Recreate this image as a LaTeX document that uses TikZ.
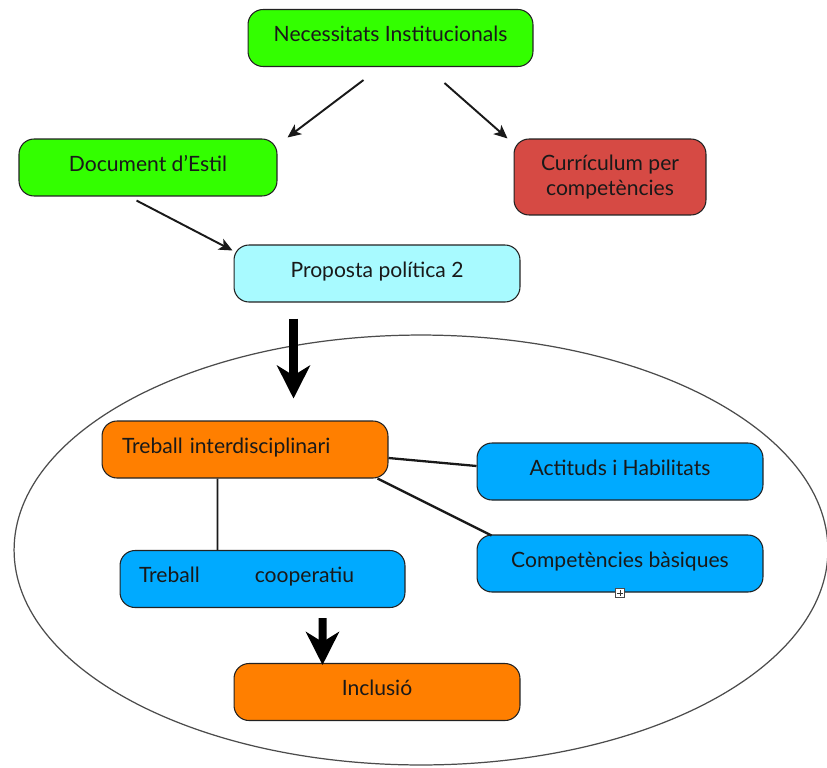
\documentclass[tikz,border=0pt]{standalone}
\usepackage{fontspec}
\setmainfont{Lato}
\usetikzlibrary{arrows.meta,calc}
\definecolor{cgreen}{HTML}{33FF00}
\definecolor{cred}{HTML}{D64A44}
\definecolor{ccyan}{HTML}{A8FAFF}
\definecolor{cblue}{HTML}{00AAFF}
\definecolor{corange}{HTML}{FF7F00}
\definecolor{cline}{HTML}{222222}
\tikzset{
  box/.style={draw=cline, line width=0.6pt, rounded corners=0.3cm,
    minimum height=1.14cm, minimum width=5.72cm, inner sep=0pt,
    font=\fontsize{12}{14.5}\selectfont, text=black!90, align=center},
  lift/.style={text height=0.3cm, text depth=0.15cm},
  thinarrow/.style={line width=1.1pt, draw=black!90,
    -{Stealth[length=0.27cm, width=0.24cm, inset=0.07cm]}},
  bigarrow/.style={line width=0.18cm, draw=black,
    -{Stealth[length=0.66cm, width=0.66cm, inset=0.2cm]}},
  link/.style={line width=1.3pt, draw=black!90},
}
\begin{document}
\begin{tikzpicture}[x=0.02cm, y=-0.02cm]
\useasboundingbox (0,0) rectangle (827,767);
\fill[white] (0,0) rectangle (827,767);
% ellipse
\draw[black!70, line width=0.7pt] (421,550) ellipse [x radius=8.14cm, y radius=4.3cm];
% nodes
\node[box, lift, fill=cgreen, minimum width=5.7cm] (nec) at (390.5,38) {Necessitats Institucionals};
\node[box, lift, fill=cgreen, minimum width=5.16cm] (doc) at (148,167.5) {Document d’Estil};
\node[box, fill=cred, minimum width=3.84cm, minimum height=1.52cm] (cur) at (610,177) {Currículum per\\competències};
\node[box, lift, fill=ccyan] (prop) at (377,273.5) {Proposta política 2};
\node[box, lift, fill=corange, text width=4.92cm, inner xsep=0.4cm, align=left] (inter) at (245,449.5) {Treball interdisciplinari};
\node[box, lift, fill=cblue] (act) at (620,471.5) {Actituds i Habilitats};
\node[box, lift, fill=cblue] (comp) at (620,563.5) {Competències bàsiques};
\node[box, lift, fill=cblue, minimum width=5.7cm, text width=4.94cm, inner xsep=0.38cm, align=left] (coop) at (262.5,579) {Treball\hspace{1.1cm}cooperatiu};
\node[box, lift, fill=corange] (incl) at (377,692) {Inclusió};
% plus box
\node[draw=black!70, fill=white, line width=0.4pt, minimum size=0.17cm, inner sep=0pt] (plus) at (620,593) {};
\draw[black!80, line width=0.4pt] ($(plus.center)+(-2.6,0)$) -- ($(plus.center)+(2.6,0)$)
  ($(plus.center)+(0,-2.6)$) -- ($(plus.center)+(0,2.6)$);
% thin arrows
\coordinate (a1s) at ($(nec.south)+(-27,13)$);
\coordinate (a1e) at ($(doc.north east)+(10,-1)$);
\draw[thinarrow] (a1s) -- (a1e);
\coordinate (a2s) at ($(nec.south)+(54,16)$);
\coordinate (a2e) at ($(cur.north west)+(-6,0)$);
\draw[thinarrow] (a2s) -- (a2e);
\coordinate (a3s) at ($(doc.south west)+(118,4)$);
\coordinate (a3e) at ($(prop.north west)+(-1,6)$);
\draw[thinarrow] (a3s) -- (a3e);
% thick arrows
\coordinate (b1s) at ($(prop.south west)+(60,16)$);
\coordinate (b1e) at ($(prop.south west)+(60,96)$);
\draw[bigarrow] (b1s) -- (b1e);
\coordinate (b2s) at ($(coop.south west)+(203,10)$);
\coordinate (b2e) at ($(incl.north west)+(89,2)$);
\draw[bigarrow, line width=0.16cm] (b2s) -- (b2e);
% links
\draw[link] ($(inter.east)+(0,8.5)$) -- ($(act.west)+(0,-5.5)$);
\draw[link] ($(inter.south east)+(-11,0)$) -- ($(comp.north west)+(15,1)$);
\draw[link, line width=1.1pt] ($(inter.south west)+(116,0)$) -- ($(coop.north west)+(98,0)$);
\end{tikzpicture}
\end{document}
